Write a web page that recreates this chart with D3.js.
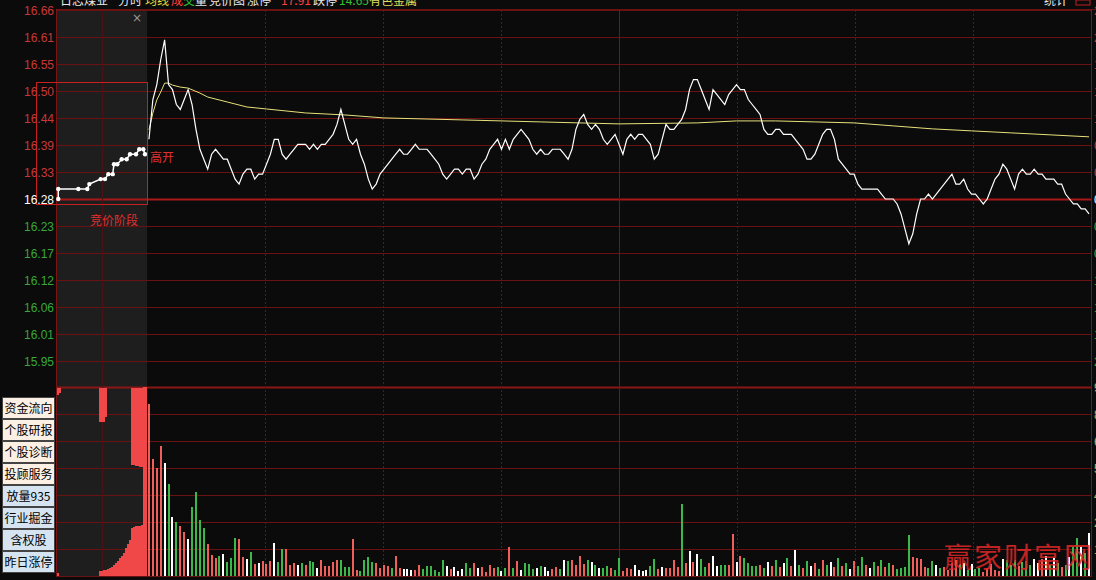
<!DOCTYPE html>
<html><head><meta charset="utf-8">
<script src="https://cdn.jsdelivr.net/npm/d3@7"></script>
<style>
html,body{margin:0;padding:0;background:#0b0b0b;overflow:hidden}
svg{display:block}
</style></head><body>
<svg id="c" width="1096" height="580"></svg>
<script>
// ---------------- DATA ----------------
const prevClose = 16.28;
const priceRange = 0.38;
const priceTickLabels = ["16.66","16.61","16.55","16.50","16.44","16.39","16.33","16.28","16.23","16.17","16.12","16.06","16.01","15.95"];
const pctTickLabels = ["2.33%","2.00%","1.67%","1.33%","1.00%","0.67%","0.33%","0.00%","0.33%","0.67%","1.00%","1.33%","1.67%","2.00%"];
const volTicks = [9450,8100,6750,5400,4050,2700,1350];
const halfHourMarks = [30,60,90,120,150,180,210];

const prices = [16.40,16.48,16.51,16.56,16.60,16.51,16.50,16.47,16.46,16.48,
16.50,16.47,16.42,16.38,16.36,16.34,16.37,16.38,16.37,16.36,
16.36,16.34,16.32,16.31,16.33,16.34,16.34,16.32,16.33,16.33,
16.35,16.37,16.40,16.40,16.37,16.36,16.37,16.38,16.39,16.39,
16.39,16.38,16.39,16.38,16.39,16.39,16.40,16.41,16.43,16.46,
16.43,16.40,16.39,16.40,16.37,16.35,16.32,16.30,16.31,16.33,
16.34,16.35,16.36,16.37,16.38,16.37,16.37,16.38,16.39,16.38,
16.38,16.38,16.37,16.36,16.35,16.33,16.32,16.33,16.34,16.34,
16.33,16.34,16.34,16.32,16.33,16.35,16.36,16.38,16.39,16.40,
16.38,16.40,16.38,16.40,16.41,16.42,16.41,16.40,16.38,16.37,
16.38,16.37,16.37,16.38,16.38,16.38,16.37,16.36,16.38,16.42,
16.44,16.45,16.43,16.42,16.43,16.42,16.40,16.39,16.40,16.41,
16.39,16.37,16.40,16.41,16.40,16.41,16.41,16.40,16.39,16.36,
16.37,16.40,16.43,16.42,16.42,16.43,16.44,16.46,16.50,16.52,
16.52,16.50,16.48,16.46,16.50,16.49,16.48,16.47,16.49,16.50,
16.51,16.50,16.50,16.48,16.47,16.46,16.45,16.42,16.41,16.41,
16.42,16.42,16.41,16.41,16.41,16.40,16.39,16.38,16.36,16.36,
16.37,16.39,16.41,16.42,16.42,16.40,16.36,16.35,16.34,16.33,
16.33,16.31,16.30,16.30,16.30,16.30,16.30,16.29,16.28,16.28,
16.28,16.27,16.25,16.22,16.19,16.21,16.25,16.28,16.28,16.29,
16.28,16.29,16.30,16.31,16.32,16.33,16.31,16.31,16.32,16.30,
16.29,16.29,16.28,16.27,16.28,16.30,16.32,16.33,16.35,16.34,
16.32,16.30,16.33,16.34,16.33,16.33,16.34,16.33,16.33,16.32,
16.32,16.32,16.31,16.31,16.29,16.28,16.27,16.27,16.26,16.26,
16.25];

const avgMinutes = [0,1,2,3,4,5,6,8,10,13,15,20,25,30,40,50,60,80,100,120,140,150,160,170,180,190,200,210,220,230,240];
const avgPrices  = [16.419,16.453,16.479,16.495,16.513,16.513,16.509,16.505,16.503,16.493,16.485,16.475,16.465,16.461,16.453,16.449,16.443,16.439,16.435,16.431,16.433,16.437,16.437,16.435,16.433,16.427,16.421,16.417,16.413,16.409,16.405];

const volumes = [8600,5850,5400,6500,5650,4600,2950,2700,2500,2200,
1850,3450,4200,2800,2400,1600,1050,900,1000,1100,
700,900,1900,1850,950,850,1200,600,650,750,
600,750,1650,700,1350,1350,550,650,550,650,
550,750,700,400,800,500,500,700,800,800,
450,450,1850,300,250,800,950,700,650,400,
550,500,400,1000,400,350,350,300,300,550,
350,500,500,300,200,800,500,350,450,250,
350,650,400,650,400,450,200,550,400,450,
250,400,1450,400,750,300,650,600,350,400,
500,450,250,350,450,350,800,750,800,550,
1000,600,800,700,550,400,400,500,400,300,
900,250,400,350,550,300,250,300,500,850,
350,450,400,400,800,450,3600,650,1250,700,
1100,850,450,650,1000,500,550,550,550,2100,
700,1000,900,650,500,500,550,400,700,500,
800,450,650,900,500,1300,550,400,750,500,
650,350,800,550,700,450,900,500,650,350,
750,500,950,550,400,700,500,800,450,650,
550,350,400,450,2050,950,900,850,450,400,
750,550,400,450,300,650,800,600,650,300,
600,350,400,200,400,600,300,250,850,800,
550,800,500,700,750,550,850,650,850,1000,
550,900,650,450,550,950,1450,1900,1450,1150,
2150];
const volColors = ("rrrrwgwgrr"+"wggggrrrgw"+"gggrrwgrwr"+"rrwggrrrwg"+"rggwrrrrrg"+
  "ggrrggggrr"+"rrgrrwwwrr"+"ggggggwrww"+"wggrwrrrrg"+"wgrgrwgggw"+
  "gwwrrgwgrr"+"rrgwgwggrg"+"grrrwwwwgg"+"rwrrrrgrwr"+"wggrwwggrr"+
  "wrggggrgwr"+"grwgrwgrgw"+"rgrgwrgrgw"+"rggrwgrgrg"+"rggggrrrrg"+
  "gwgrrrrgwg"+"wggrrrrrwg"+"ggrgggwwrw"+"gwgrgwggwg"+"w").split("");

// call auction 9:15-9:25 (minutes from 9:15)
const auctionMinutes = [0.14,0.14,2.37,3.37,3.59,4.86,5.33,5.70,6.19,6.33,6.70,7.19,7.74,8.11,8.78,9.14,9.59,9.78];
const auctionPrices  = [16.28,16.30,16.30,16.30,16.31,16.32,16.32,16.33,16.33,16.35,16.35,16.36,16.36,16.37,16.37,16.38,16.38,16.37];
// auction volume slots (45 slots across the auction window)
const auctionMatched = [150,0,0,0,0,0,0,0,0,0,0,0,0,0,0,0,0,0,0,0,0,
  250,250,300,300,350,400,450,550,650,750,900,1000,1150,1400,1600,1800,2400,2450,2500,2500,2500,2550,9450,9450];
const auctionUnmatched = [400,300,0,0,0,0,0,0,0,0,0,0,0,0,0,0,0,0,0,0,0,
  1750,1750,1750,1500,0,0,0,0,0,0,0,0,0,0,0,0,3900,3900,3950,3950,4000,4000,9450,9450];

const headerItems = [
  {t:"日志煤业",x:60,c:"#e8e8e8"},{t:"分时",x:118,c:"#e8e8e8"},{t:"均线",x:145,c:"#e8e040"},
  {t:"成",x:171,c:"#ff4040"},{t:"交",x:183,c:"#30c030"},{t:"量",x:195,c:"#e8e8e8"},
  {t:"竞价图",x:209,c:"#e8e8e8"},{t:"涨停",x:247,c:"#e8e8e8"},{t:"17.91",x:281,c:"#ff4040"},
  {t:"跌停",x:313,c:"#e8e8e8"},{t:"14.65",x:339,c:"#30c030"},{t:"有色金属",x:369,c:"#e0e060"},
  {t:"统计",x:1044,c:"#e8e8e8"}];
const buttons = ["资金流向","个股研报","个股诊断","投顾服务","放量935","行业掘金","含权股","昨日涨停"];

// ---------------- DRAW ----------------
const svg = d3.select("#c");
const L = 57, R = 1091, AR = 147;
const pTop = 10, pBot = 388, vTop = 387, vBot = 576;

const y = d3.scaleLinear().domain([prevClose - priceRange, prevClose + priceRange]).range([pBot, pTop]);
const yv = d3.scaleLinear().domain([0, 9450]).range([vBot, vTop]);
const xg = d3.scaleLinear().domain([0, 240]).range([AR, R]);
const xb = d3.scaleBand().domain(d3.range(241)).range([AR, R]);
const xc = i => xb(i) + xb.bandwidth() / 2;
const xa = d3.scaleLinear().domain([0, 10]).range([L, AR]);
const xab = d3.scaleBand().domain(d3.range(45)).range([L, AR]);

svg.append("rect").attr("width",1096).attr("height",580).attr("fill","#0b0b0b");
svg.append("rect").attr("x",L).attr("y",pTop).attr("width",AR-L).attr("height",vBot-pTop+1).attr("fill","#1e1e1e");

const grid = svg.append("g");
const tickVals = priceTickLabels.map((d,k)=> prevClose + (7-k)*priceRange/7);
tickVals.forEach((v,k)=>{
  grid.append("line").attr("x1",L).attr("x2",R).attr("y1",Math.round(y(v))+0.5).attr("y2",Math.round(y(v))+0.5)
    .attr("stroke", k===7 ? "#a81818" : "#6a1212").attr("stroke-width", k===7 ? 2 : 1);
});
volTicks.forEach(v=>{
  grid.append("line").attr("x1",L).attr("x2",R).attr("y1",Math.round(yv(v))+0.5).attr("y2",Math.round(yv(v))+0.5)
    .attr("stroke","#6a1212").attr("stroke-width",1);
});
grid.append("line").attr("x1",L).attr("x2",R).attr("y1",387.5).attr("y2",387.5).attr("stroke","#8c1616").attr("stroke-width",2);
grid.append("line").attr("x1",L).attr("x2",1096).attr("y1",9.5).attr("y2",9.5).attr("stroke","#6a1212");
grid.append("line").attr("x1",L).attr("x2",R).attr("y1",576.5).attr("y2",576.5).attr("stroke","#6a1212");
grid.append("line").attr("x1",56.5).attr("x2",56.5).attr("y1",9).attr("y2",577).attr("stroke","#7a1414");
grid.append("line").attr("x1",R+0.5).attr("x2",R+0.5).attr("y1",9).attr("y2",577).attr("stroke","#7a1414");
halfHourMarks.forEach(m=>{
  grid.append("line").attr("x1",Math.round(xg(m))+0.5).attr("x2",Math.round(xg(m))+0.5).attr("y1",pTop).attr("y2",vBot)
    .attr("stroke", m===120 ? "#7a1414" : "#6a1212").attr("stroke-dasharray", m===120 ? null : "2,2");
});
grid.append("line").attr("x1",Math.round(xa(5))+0.5).attr("x2",Math.round(xa(5))+0.5).attr("y1",pTop).attr("y2",vBot).attr("stroke","#4a1212");

// auction volume
svg.append("g").selectAll("rect").data(auctionMatched).join("rect")
  .attr("x",(d,j)=>xab(j)).attr("width",2).attr("y",d=>yv(d)).attr("height",d=>vBot-yv(d)).attr("fill","#f04848");
svg.append("g").selectAll("rect").data(auctionUnmatched).join("rect")
  .attr("x",(d,j)=>xab(j)).attr("width",2).attr("y",vTop+1).attr("height",d=>Math.max(0,vBot-yv(d)-1)).attr("fill","#f04848");

// minute volume
const colMap = {r:"#f0605a", g:"#3cb84a", w:"#ffffff"};
svg.append("g").selectAll("rect").data(volumes).join("rect")
  .attr("x",(d,i)=>Math.round(xc(i))-1).attr("width",2)
  .attr("y",d=>yv(d)).attr("height",d=>vBot-yv(d))
  .attr("fill",(d,i)=>colMap[volColors[i]]);

// auction price
const aLine = d3.line().x((d,i)=>xa(auctionMinutes[i])).y(d=>y(d));
svg.append("path").attr("d",aLine(auctionPrices)).attr("fill","none").attr("stroke","#fff").attr("stroke-width",1.5);
svg.append("g").selectAll("circle").data(auctionPrices).join("circle")
  .attr("cx",(d,i)=>xa(auctionMinutes[i])).attr("cy",d=>y(d)).attr("r",2.2).attr("fill","#fff");

// average & price
const avgLine = d3.line().x((d,i)=>xc(avgMinutes[i])).y(d=>y(d));
svg.append("path").attr("d",avgLine(avgPrices)).attr("fill","none").attr("stroke","#e8e07a").attr("stroke-width",1);
const pLine = d3.line().x((d,i)=>xc(i)).y(d=>y(d));
svg.append("path").attr("d",pLine(prices)).attr("fill","none").attr("stroke","#ffffff").attr("stroke-width",1.2);

// auction box & labels
svg.append("rect").attr("x",36.5).attr("y",82.5).attr("width",AR-36).attr("height",122).attr("fill","none").attr("stroke","#c82020").attr("stroke-width",1);
svg.append("text").attr("x",150).attr("y",162).text("高开").attr("fill","#e03030").attr("font-size",12).attr("font-family","Noto Sans CJK SC");
svg.append("text").attr("x",90).attr("y",225).text("竞价阶段").attr("fill","#e03030").attr("font-size",12).attr("font-family","Noto Sans CJK SC");
svg.append("text").attr("x",137).attr("y",22).text("×").attr("fill","#9a9a9a").attr("font-size",12).attr("text-anchor","middle").attr("font-family","DejaVu Sans");

// axis labels
svg.append("g").selectAll("text").data(priceTickLabels).join("text")
  .attr("x",54).attr("y",(d,k)=>y(tickVals[k])+4.5).attr("text-anchor","end")
  .attr("font-family","Liberation Sans, Arial").attr("font-size",12)
  .attr("fill",(d,k)=> k<7 ? "#c83838" : (k===7 ? "#ffffff" : "#38a838")).text(d=>d);
svg.append("g").selectAll("text").data(pctTickLabels).join("text")
  .attr("x",1094).attr("y",(d,k)=>y(tickVals[k])+4.5)
  .attr("font-family","Liberation Sans, Arial").attr("font-size",12)
  .attr("fill",(d,k)=> k<7 ? "#c83838" : (k===7 ? "#ffffff" : "#38a838")).text(d=>d);
svg.append("g").selectAll("text").data(volTicks).join("text")
  .attr("x",1094).attr("y",d=>yv(d)+4.5)
  .attr("font-family","Liberation Sans, Arial").attr("font-size",12)
  .attr("fill","#b8b860").text(d=>d);

// buttons
const bg = svg.append("g");
buttons.forEach((b,i)=>{
  const by = 397 + i*22;
  bg.append("rect").attr("x",2.5).attr("y",by+0.5).attr("width",52).attr("height",21)
    .attr("fill", i<4 ? "#fcefe4" : "#d6e4f2").attr("stroke","#444").attr("stroke-width",1);
  bg.append("text").attr("x",28.5).attr("y",by+16).attr("text-anchor","middle")
    .attr("font-family","Noto Sans CJK SC").attr("font-size",12).attr("fill","#000").text(b);
});

// header (partially cut at top)
svg.append("g").selectAll("text").data(headerItems).join("text")
  .attr("x",d=>d.x).attr("y",5).attr("font-family","Noto Sans CJK SC").attr("font-size",12)
  .attr("fill",d=>d.c).text(d=>d.t);
svg.append("rect").attr("x",1076).attr("y",0).attr("width",14).attr("height",5).attr("fill","none").attr("stroke","#c02020");

// watermark
svg.append("text").attr("x",944).attr("y",568).text("赢家财富网")
  .attr("font-family","Noto Sans CJK SC").attr("font-size",28).attr("letter-spacing",2)
  .attr("fill","#e02828").attr("opacity",0.85);
</script>
</body></html>
